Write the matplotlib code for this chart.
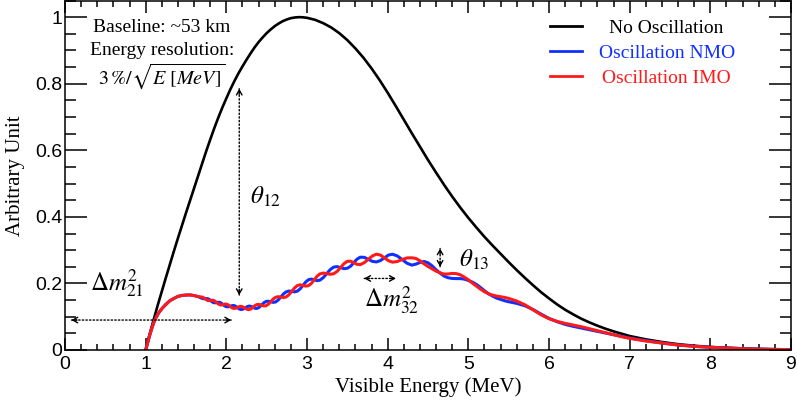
import matplotlib
matplotlib.use('Agg')
import matplotlib.pyplot as plt
from matplotlib.ticker import MultipleLocator, FixedLocator, FixedFormatter

# ---------------- data ----------------
energy_noosc = [1.00, 1.02, 1.05, 1.10, 1.15, 1.20, 1.25, 1.30, 1.35, 1.40, 1.45, 1.50, 1.55,
                1.60, 1.65, 1.70, 1.75, 1.80, 1.85, 1.90, 1.95, 2.00, 2.05, 2.10, 2.15, 2.20,
                2.25, 2.30, 2.35, 2.40, 2.45, 2.50, 2.55, 2.60, 2.65, 2.70, 2.75, 2.80, 2.85,
                2.90, 2.95, 3.00, 3.10, 3.20, 3.30, 3.40, 3.50, 3.60, 3.70, 3.80, 3.90, 4.00,
                4.10, 4.20, 4.30, 4.40, 4.50, 4.60, 4.70, 4.80, 4.90, 5.00, 5.10, 5.20, 5.30,
                5.40, 5.50, 5.60, 5.70, 5.80, 5.90, 6.00, 6.10, 6.20, 6.30, 6.40, 6.50, 6.60,
                6.70, 6.80, 6.90, 7.00, 7.20, 7.40, 7.60, 7.80, 8.00, 8.20, 8.40, 8.60, 8.80,
                9.00]
flux_noosc = [0.000, 0.020, 0.048, 0.092, 0.135, 0.176, 0.217, 0.257, 0.297, 0.336, 0.374,
              0.412, 0.449, 0.486, 0.523, 0.560, 0.597, 0.632, 0.666, 0.698, 0.728, 0.756,
              0.783, 0.808, 0.831, 0.852, 0.872, 0.891, 0.909, 0.925, 0.939, 0.952, 0.963,
              0.973, 0.981, 0.988, 0.993, 0.997, 0.999, 1.000, 0.9995, 0.998, 0.992, 0.982,
              0.969, 0.952, 0.931, 0.906, 0.878, 0.846, 0.811, 0.773, 0.733, 0.692, 0.651,
              0.611, 0.571, 0.533, 0.496, 0.461, 0.428, 0.397, 0.368, 0.340, 0.314, 0.289,
              0.264, 0.240, 0.217, 0.195, 0.174, 0.155, 0.137, 0.121, 0.107, 0.094, 0.083,
              0.073, 0.064, 0.056, 0.049, 0.042, 0.032, 0.024, 0.0175, 0.0128, 0.0092, 0.0066,
              0.0046, 0.0031, 0.002, 0.001]

energy_osc = [1.00, 1.02, 1.05, 1.08, 1.10, 1.13, 1.16, 1.20, 1.25, 1.30, 1.35, 1.40, 1.45, 1.50,
              1.55, 1.60, 1.65,
              1.700, 1.718, 1.735, 1.753, 1.770, 1.788, 1.805, 1.823, 1.840, 1.860, 1.880, 1.900,
              1.920, 1.940, 1.960, 1.980, 2.000, 2.023, 2.045, 2.068, 2.090, 2.113, 2.135, 2.158,
              2.180, 2.205, 2.230, 2.255, 2.280, 2.305, 2.330, 2.355, 2.380, 2.408, 2.435, 2.463,
              2.490, 2.520, 2.550, 2.580, 2.610, 2.643, 2.675, 2.708, 2.740, 2.775, 2.810, 2.845,
              2.880, 2.915, 2.950, 2.985, 3.020, 3.055, 3.090, 3.125, 3.160, 3.203, 3.245, 3.288,
              3.330, 3.373, 3.415, 3.458, 3.500, 3.540, 3.580, 3.620, 3.660, 3.710, 3.760, 3.810,
              3.860, 3.910, 3.960, 4.010, 4.060, 4.120, 4.180, 4.240, 4.300,
              4.35, 4.40, 4.45, 4.50, 4.55, 4.60, 4.65, 4.70, 4.75, 4.80, 4.85, 4.90, 4.95, 5.00,
              5.05, 5.10, 5.15, 5.20, 5.25, 5.30, 5.35, 5.40, 5.45, 5.50, 5.60, 5.70, 5.80, 5.90,
              6.00, 6.10, 6.20, 6.30, 6.40, 6.50, 6.60, 6.70, 6.80, 6.90, 7.00, 7.20, 7.40, 7.60,
              7.80, 8.00, 8.20, 8.50, 9.00]

flux_imo = [0.0, 0.018, 0.044, 0.068, 0.082, 0.098, 0.111, 0.124, 0.137, 0.148, 0.155, 0.161,
            0.164, 0.165, 0.1655, 0.1635, 0.1605,
            0.159, 0.1572, 0.1542, 0.1510, 0.1487, 0.1480, 0.1486, 0.1495, 0.1492, 0.1467, 0.1426,
            0.1385, 0.1358, 0.1352, 0.1364, 0.1380, 0.1380, 0.1355, 0.1313, 0.1270, 0.1249, 0.1252,
            0.1276, 0.1302, 0.1313, 0.1295, 0.1260, 0.1224, 0.1212, 0.1233, 0.1282, 0.1335, 0.1367,
            0.1368, 0.1348, 0.1325, 0.1328, 0.1373, 0.1450, 0.1529, 0.1582, 0.1603, 0.1590, 0.1577,
            0.1591, 0.1659, 0.1762, 0.1862, 0.1936, 0.1959, 0.1940, 0.1919, 0.1934, 0.2002, 0.2108,
            0.2216, 0.2286, 0.2311, 0.2294, 0.2276, 0.2290, 0.2361, 0.2475, 0.2592, 0.2665, 0.2668,
            0.2624, 0.2574, 0.2564, 0.2624, 0.2724, 0.2825, 0.2878, 0.2853, 0.2770, 0.2683, 0.2639,
            0.2659, 0.2718, 0.2766, 0.2770,
            0.275, 0.268, 0.259, 0.251, 0.244, 0.237, 0.232, 0.228, 0.2285, 0.230, 0.2295, 0.226,
            0.219, 0.211, 0.201, 0.192, 0.183, 0.175, 0.169, 0.165, 0.162, 0.160, 0.158, 0.155,
            0.147, 0.136, 0.121, 0.106, 0.094, 0.086, 0.080, 0.075, 0.070, 0.064, 0.058, 0.052,
            0.046, 0.040, 0.035, 0.027, 0.021, 0.015, 0.011, 0.008, 0.006, 0.003, 0.001]

flux_nmo = [0.0, 0.018, 0.044, 0.068, 0.082, 0.098, 0.111, 0.124, 0.137, 0.148, 0.155, 0.161,
            0.164, 0.165, 0.1655, 0.1635, 0.1605,
            0.155, 0.1540, 0.1542, 0.1546, 0.1541, 0.1520, 0.1486, 0.1449, 0.1424, 0.1417, 0.1426,
            0.1435, 0.1430, 0.1404, 0.1364, 0.1324, 0.1300, 0.1297, 0.1313, 0.1330, 0.1339, 0.1318,
            0.1276, 0.1234, 0.1215, 0.1225, 0.1260, 0.1298, 0.1320, 0.1311, 0.1282, 0.1253, 0.1249,
            0.1284, 0.1348, 0.1415, 0.1456, 0.1467, 0.1450, 0.1431, 0.1442, 0.1501, 0.1590, 0.1683,
            0.1745, 0.1771, 0.1762, 0.1746, 0.1768, 0.1837, 0.1940, 0.2045, 0.2114, 0.2130, 0.2108,
            0.2084, 0.2098, 0.2177, 0.2294, 0.2416, 0.2490, 0.2505, 0.2475, 0.2444, 0.2455, 0.2516,
            0.2624, 0.2730, 0.2788, 0.2784, 0.2724, 0.2663, 0.2646, 0.2687, 0.2770, 0.2853, 0.2877,
            0.2825, 0.2718, 0.2606, 0.2550,
            0.258, 0.263, 0.266, 0.262, 0.253, 0.241, 0.231, 0.222, 0.217, 0.215, 0.2145, 0.2145,
            0.213, 0.209, 0.204, 0.197, 0.188, 0.178, 0.169, 0.162, 0.156, 0.152, 0.148, 0.145,
            0.140, 0.133, 0.122, 0.108, 0.095, 0.085, 0.077, 0.071, 0.066, 0.061, 0.056, 0.051,
            0.046, 0.041, 0.036, 0.028, 0.021, 0.015, 0.011, 0.008, 0.006, 0.003, 0.001]

xtick_values = [0, 1, 2, 3, 4, 5, 6, 7, 8, 9]
xtick_labels = ['0', '1', '2', '3', '4', '5', '6', '7', '8', '9']
ytick_values = [0.0, 0.2, 0.4, 0.6, 0.8, 1.0]
ytick_labels = ['0', '0.2', '0.4', '0.6', '0.8', '1']
series_labels = ['No Oscillation', 'Oscillation NMO', 'Oscillation IMO']
series_colors = ['black', '#1030ff', '#ff1a1a']

# ---------------- style ----------------
plt.rcParams['font.family'] = ['Liberation Serif', 'DejaVu Serif']
plt.rcParams['mathtext.fontset'] = 'stix'

fig = plt.figure(figsize=(7.97, 4.04), dpi=100)
ax = fig.add_axes([65 / 797, 54 / 404, 726 / 797, 349.5 / 404])

ax.plot(energy_noosc, flux_noosc, color=series_colors[0], lw=1.9, label=series_labels[0],
        solid_joinstyle='round')
ax.plot(energy_osc, flux_nmo, color=series_colors[1], lw=2.2, label=series_labels[1],
        solid_joinstyle='round')
ax.plot(energy_osc, flux_imo, color=series_colors[2], lw=2.2, label=series_labels[2],
        solid_joinstyle='round')

ax.set_xlim(0, 9)
ax.set_ylim(0, 1.05)

ax.xaxis.set_major_locator(FixedLocator(xtick_values))
ax.xaxis.set_major_formatter(FixedFormatter(xtick_labels))
ax.xaxis.set_minor_locator(MultipleLocator(0.2))
ax.yaxis.set_major_locator(FixedLocator(ytick_values))
ax.yaxis.set_major_formatter(FixedFormatter(ytick_labels))
ax.yaxis.set_minor_locator(MultipleLocator(0.05))

ax.tick_params(axis='both', which='both', direction='in', top=True, right=True, width=1.1)
ax.tick_params(axis='y', which='major', length=15.5, pad=2.0)
ax.tick_params(axis='y', which='minor', length=7.8)
ax.tick_params(axis='x', which='major', length=8.6, pad=4.5)
ax.tick_params(axis='x', which='minor', length=4.3)
for lab in ax.get_xticklabels() + ax.get_yticklabels():
    lab.set_family(['Liberation Sans', 'DejaVu Sans'])
    lab.set_fontsize(14)
for sp in ax.spines.values():
    sp.set_linewidth(1.1)

ax.set_xlabel('Visible Energy (MeV)', fontsize=15)
ax.set_ylabel('Arbitrary Unit', fontsize=15)
ax.xaxis.set_label_coords(0.5, -0.077)
ax.yaxis.set_label_coords(-0.055, 0.5)

# legend (entries centred like the reference)
leg = ax.legend(loc='upper left', bbox_to_anchor=(0.668, 0.946), frameon=False,
                fontsize=14, handlelength=1.65, handletextpad=0.85, labelspacing=0.37,
                borderpad=0, borderaxespad=0, labelcolor='linecolor')
for h in leg.legend_handles:
    h.set_linewidth(2.0)
fig.canvas.draw()
renderer = fig.canvas.get_renderer()
widths = [t.get_window_extent(renderer).width for t in leg.get_texts()]
wmax = max(widths)
for t, w in zip(leg.get_texts(), widths):
    t.set_x((wmax - w) / 2.0)

# info text
ax.text(1.20, 0.955, 'Baseline: ~53 km', fontsize=14, ha='center', va='baseline')
ax.text(1.20, 0.885, 'Energy resolution:', fontsize=14, ha='center', va='baseline')
ax.text(1.20, 0.800, r'$3\,\%/\sqrt{E\ [MeV]}$', fontsize=14.5, ha='center', va='baseline')


# dotted double-headed arrows
def dotted_arrow(x0, y0, x1, y1):
    ax.annotate('', xy=(x1, y1), xytext=(x0, y0),
                arrowprops=dict(arrowstyle='-', linestyle=(0, (1, 1.6)), lw=1.0,
                                color='black', shrinkA=0, shrinkB=0))
    for (xa, ya), (xb, yb) in (((x0, y0), (x1, y1)), ((x1, y1), (x0, y0))):
        dx, dy = xb - xa, yb - ya
        n = (dx ** 2 + dy ** 2) ** 0.5
        ax.annotate('', xy=(xa, ya), xycoords='data',
                    xytext=(4 * dx / n, 4 * dy / n),
                    textcoords='offset points',
                    arrowprops=dict(arrowstyle='->,head_length=0.35,head_width=0.2', lw=1.0,
                                    color='black', shrinkA=0, shrinkB=0))


dotted_arrow(2.16, 0.165, 2.16, 0.785)
dotted_arrow(0.08, 0.09, 2.06, 0.09)
dotted_arrow(3.71, 0.215, 4.10, 0.215)
dotted_arrow(4.65, 0.25, 4.65, 0.305)

ax.text(2.48, 0.46, r'$\theta_{12}$', fontsize=18, ha='center', va='center')
ax.text(0.645, 0.20, r'$\Delta m^2_{21}$', fontsize=18, ha='center', va='center')
ax.text(4.05, 0.149, r'$\Delta m^2_{32}$', fontsize=18, ha='center', va='center')
ax.text(5.07, 0.27, r'$\theta_{13}$', fontsize=18, ha='center', va='center')

fig.savefig('out.png', dpi=100)
